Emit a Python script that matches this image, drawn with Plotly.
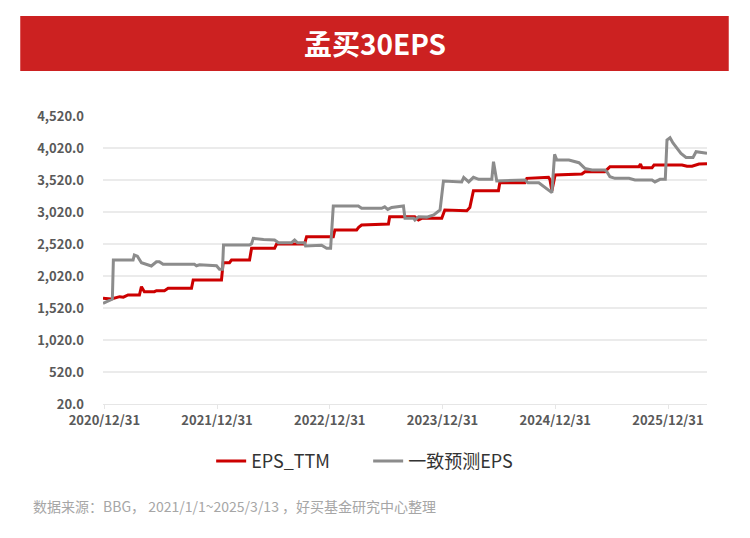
import plotly.graph_objects as go

# x: years since 2020/12/31 (axis tick positions 0..5 labelled with dates)
tick_pos = [0, 1, 2, 3, 4, 5]
tick_labels = ["2020/12/31", "2021/12/31", "2022/12/31", "2023/12/31", "2024/12/31", "2025/12/31"]
y_ticks = [20, 520, 1020, 1520, 2020, 2520, 3020, 3520, 4020, 4520]

eps_ttm_x = [-0.012, 0.062, 0.136, 0.169, 0.210, 0.311, 0.329, 0.355, 0.444, 0.462, 0.533, 0.566,
             0.773, 0.788, 1.039, 1.054, 1.110, 1.128, 1.288, 1.306, 1.510, 1.528, 1.776, 1.794,
             2.031, 2.045, 2.238, 2.256, 2.282, 2.520, 2.531, 2.753, 2.786, 2.815, 2.993, 3.020,
             3.215, 3.242, 3.274, 3.496, 3.508, 3.730, 3.748, 3.940, 3.952, 3.970, 3.999, 4.236,
             4.263, 4.440, 4.485, 4.742, 4.756, 4.769, 4.858, 4.876, 5.124, 5.169, 5.213, 5.275, 5.346]
eps_ttm_y = [1671, 1660, 1697, 1690, 1723, 1723, 1853, 1775, 1775, 1790, 1790, 1828,
             1828, 1958, 1958, 2228, 2228, 2270, 2270, 2453, 2453, 2520, 2520, 2634,
             2634, 2739, 2739, 2780, 2817, 2832, 2947, 2947, 2895, 2921, 2921, 3051,
             3040, 3090, 3353, 3353, 3478, 3478, 3546, 3562, 3531, 3353, 3598, 3614,
             3650, 3650, 3728, 3728, 3770, 3710, 3710, 3754, 3754, 3735, 3735, 3770, 3775]

cons_x = [-0.012, 0.026, 0.062, 0.071, 0.080, 0.255, 0.266, 0.293, 0.329, 0.417, 0.462, 0.488,
          0.521, 0.799, 0.817, 0.844, 0.995, 1.021, 1.048, 1.057, 1.288, 1.306, 1.321, 1.412,
          1.510, 1.545, 1.661, 1.688, 1.714, 1.776, 1.785, 1.927, 1.972, 2.007, 2.031, 2.253,
          2.282, 2.460, 2.487, 2.514, 2.549, 2.653, 2.667, 2.744, 2.755, 2.788, 2.860, 2.922,
          2.978, 3.008, 3.170, 3.188, 3.232, 3.274, 3.321, 3.437, 3.452, 3.481, 3.730, 3.757,
          3.854, 3.881, 3.940, 3.970, 3.994, 4.014, 4.121, 4.165, 4.210, 4.263, 4.325, 4.440,
          4.458, 4.485, 4.529, 4.654, 4.707, 4.858, 4.884, 4.929, 4.976, 4.991, 5.018, 5.044,
          5.115, 5.160, 5.222, 5.249, 5.346]
cons_y = [1593, 1620, 1656, 1660, 2270, 2270, 2348, 2330, 2228, 2176, 2243, 2243,
          2202, 2202, 2180, 2195, 2180, 2125, 2125, 2504, 2504, 2525, 2609, 2590,
          2583, 2540, 2540, 2583, 2540, 2540, 2489, 2500, 2453, 2453, 3114, 3114,
          3078, 3078, 3100, 3060, 3092, 3114, 2921, 2921, 2895, 2947, 2940, 2975,
          3051, 3504, 3490, 3560, 3490, 3562, 3530, 3530, 3806, 3504, 3520, 3478,
          3478, 3440, 3364, 3322, 3921, 3833, 3833, 3810, 3790, 3702, 3676, 3676,
          3650, 3572, 3546, 3546, 3520, 3520, 3490, 3530, 3530, 4145, 4180, 4100,
          3936, 3873, 3873, 3962, 3936]

fig = go.Figure()
fig.add_trace(go.Scatter(x=eps_ttm_x, y=eps_ttm_y, mode="lines", name="EPS_TTM",
                         line=dict(color="#CC0000", width=3)))
fig.add_trace(go.Scatter(x=cons_x, y=cons_y, mode="lines", name="一致预测EPS",
                         line=dict(color="#8C8C8C", width=3)))

font_family = "Noto Sans CJK SC, Noto Sans, sans-serif"

fig.update_layout(
    width=750, height=538,
    paper_bgcolor="white", plot_bgcolor="white",
    margin=dict(l=103, r=43, t=116, b=134),
    font=dict(family=font_family, color="#595959"),
    showlegend=True,
    legend=dict(orientation="h", x=0.439, xanchor="center", y=-0.135, yanchor="top",
                font=dict(size=18, color="#333333"), itemwidth=30, entrywidth=112,
                traceorder="normal"),
    xaxis=dict(range=[-0.012, 5.346], tickvals=tick_pos, ticktext=tick_labels,
               showgrid=False, zeroline=False, showline=True, linecolor="#E6E6E6", linewidth=1,
               ticks="outside", ticklen=4, tickcolor="#E6E6E6",
               tickfont=dict(size=13, color="#595959", family="Noto Sans CJK SC", weight="bold"),
               ),
    yaxis=dict(range=[20, 4520], tickvals=y_ticks, tickformat=",.1f",
               showgrid=True, gridcolor="#EBEBEB", gridwidth=1.5, zeroline=False,
               showline=False, ticks="", ticklabelstandoff=18,
               tickfont=dict(size=13, color="#595959", family="Noto Sans CJK SC", weight="bold")),
    shapes=[dict(type="rect", xref="paper", yref="paper", x0=-0.137, x1=1.036,
                 y0=1.156, y1=1.347, fillcolor="#CC2121", line=dict(width=0), layer="below")],
    annotations=[
        dict(text="<b>孟买30EPS</b>", xref="paper", yref="paper", x=0.450, y=1.252,
             xanchor="center", yanchor="middle", showarrow=False,
             font=dict(size=28, color="white", family="Noto Sans CJK SC")),
        dict(text="数据来源：BBG， 2021/1/1~2025/3/13 ，好买基金研究中心整理", xref="paper", yref="paper",
             x=-0.12, y=-0.355, xanchor="left", yanchor="middle", showarrow=False,
             font=dict(size=14, color="#A6A6A6", family="Noto Sans CJK SC")),
    ],
)

fig.write_html("out.html")
